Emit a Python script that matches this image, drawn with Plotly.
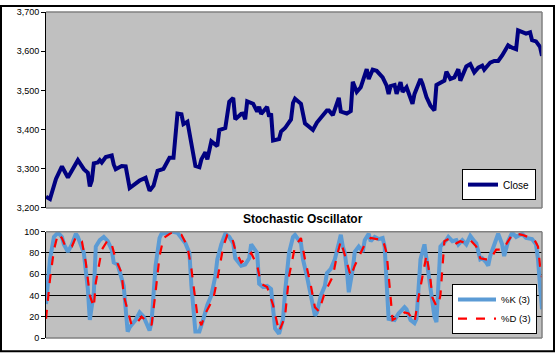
import plotly.graph_objects as go

# ---- data (trading-day index) ----
close_day = [0, 2, 5, 8, 11, 16, 19, 21, 22, 23, 24, 26, 27, 28, 30, 33, 34, 35, 38, 40,
             42, 45, 47, 50, 52, 54, 56, 59, 62, 64, 66, 68, 69, 71, 75, 77, 78, 80, 81, 83,
             86, 87, 90, 92, 94, 95, 98, 99, 100, 101, 104, 106, 107, 108, 111, 112, 113, 114, 117, 118,
             120, 123, 124, 125, 128, 130, 134, 136, 141, 142, 144, 147, 148, 151, 153, 154, 156, 158, 161, 162,
             164, 166, 169, 171, 172, 173, 175, 176, 178, 179, 181, 182, 184, 185, 188, 189, 191, 193, 195, 196,
             199, 200, 201, 203, 205, 207, 208, 210, 211, 213, 214, 215, 217, 219, 220, 223, 225, 227, 229, 232,
             234, 236, 237, 240, 241, 243, 244, 246, 248, 249]
close_val = [3229, 3223, 3274, 3306, 3278, 3322, 3299, 3290, 3255, 3270, 3314, 3316, 3322, 3316, 3330, 3334, 3311, 3299, 3307, 3306,
             3251, 3264, 3270, 3277, 3244, 3257, 3295, 3300, 3328, 3328, 3441, 3439, 3414, 3420, 3307, 3304, 3324, 3342, 3324, 3370,
             3358, 3399, 3404, 3471, 3481, 3426, 3440, 3441, 3426, 3472, 3466, 3446, 3458, 3440, 3458, 3433, 3441, 3372, 3376, 3395,
             3404, 3426, 3468, 3479, 3466, 3416, 3399, 3418, 3449, 3449, 3437, 3481, 3446, 3441, 3447, 3522, 3496, 3508, 3554, 3529,
             3553, 3550, 3533, 3512, 3491, 3511, 3514, 3491, 3521, 3496, 3508, 3494, 3466, 3491, 3529, 3517, 3483, 3461, 3449, 3514,
             3521, 3525, 3548, 3529, 3533, 3554, 3525, 3554, 3561, 3567, 3554, 3546, 3558, 3563, 3553, 3571, 3575, 3575, 3589, 3615,
             3609, 3605, 3653, 3645, 3645, 3648, 3628, 3625, 3611, 3588]

k_day = [0, 2, 4, 6, 8, 9, 11, 13, 15, 16, 19, 21, 22, 24, 25, 27, 29, 31, 33, 34,
         36, 37, 39, 41, 42, 45, 47, 49, 52, 53, 55, 57, 58, 61, 63, 66, 68, 70, 72, 73,
         75, 77, 79, 81, 83, 85, 86, 88, 90, 92, 94, 95, 98, 100, 102, 103, 106, 107, 109, 111,
         113, 115, 117, 119, 120, 122, 124, 125, 128, 129, 131, 133, 135, 136, 138, 140, 141, 143, 145, 147,
         148, 149, 150, 151, 152, 154, 155, 157, 159, 160, 162, 163, 165, 167, 169, 170, 172, 175, 177, 180,
         181, 183, 185, 186, 188, 190, 192, 194, 195, 196, 197, 198, 201, 202, 204, 206, 207, 209, 211, 213,
         215, 216, 218, 219, 221, 222, 223, 225, 227, 229, 230, 232, 234, 236, 239, 241, 244, 246, 247, 248, 249]
k_val = [32, 74, 95, 99, 95, 88, 81, 88, 98, 95, 80, 46, 17, 43, 86, 92, 95, 91, 83, 71,
         69, 63, 49, 6, 10, 17, 24, 20, 7, 15, 68, 94, 98, 99, 100, 99, 94, 89, 80, 49,
         6, 6, 18, 31, 40, 58, 74, 88, 98, 95, 89, 75, 68, 69, 75, 88, 80, 51, 48, 49,
         46, 9, 4, 18, 43, 80, 95, 97, 89, 74, 58, 37, 21, 24, 40, 49, 61, 65, 74, 89,
         97, 86, 80, 65, 43, 65, 81, 86, 81, 92, 98, 91, 95, 93, 94, 86, 18, 17, 23, 29,
         27, 17, 14, 18, 74, 88, 61, 40, 20, 15, 45, 86, 92, 95, 91, 92, 88, 92, 88, 96,
         91, 89, 74, 75, 71, 68, 77, 89, 98, 88, 77, 91, 99, 95, 98, 94, 93, 88, 74, 49, 27]

d_day = [0, 2, 4, 6, 8, 10, 13, 15, 18, 20, 22, 24, 25, 28, 31, 33, 35, 38, 39, 42,
         43, 46, 48, 51, 53, 55, 57, 59, 63, 68, 71, 73, 76, 78, 80, 84, 86, 89, 91, 93,
         95, 98, 100, 103, 106, 108, 111, 114, 116, 117, 120, 122, 125, 128, 130, 133, 135, 137, 140, 144,
         146, 148, 150, 153, 155, 158, 160, 163, 166, 169, 171, 174, 177, 180, 182, 185, 187, 191, 193, 194,
         196, 197, 198, 200, 203, 206, 208, 211, 213, 216, 218, 221, 223, 226, 229, 231, 234, 236, 239, 242,
         245, 247, 248, 249]
d_val = [18, 55, 83, 98, 94, 85, 86, 95, 91, 71, 40, 29, 52, 83, 92, 88, 74, 61, 40, 18,
         12, 15, 20, 15, 12, 43, 77, 94, 99, 97, 86, 65, 21, 12, 23, 37, 55, 86, 97, 97,
         83, 71, 74, 80, 68, 51, 48, 31, 12, 6, 20, 58, 86, 94, 74, 49, 29, 25, 43, 58,
         77, 91, 78, 58, 68, 81, 88, 94, 93, 93, 80, 17, 20, 24, 23, 15, 38, 78, 55, 38,
         30, 32, 40, 91, 94, 89, 91, 89, 92, 86, 75, 74, 74, 83, 83, 88, 97, 98, 97, 95,
         93, 86, 68, 57]

y_top_ticks = [3200, 3300, 3400, 3500, 3600, 3700]
y_bot_ticks = [0, 20, 40, 60, 80, 100]

FONT = "Liberation Sans, Arial, sans-serif"
GRAY_BG = "#C0C0C0"
BORDER = "#808080"

fig = go.Figure()
fig.add_trace(go.Scatter(x=close_day, y=close_val, mode="lines", name="Close",
                         line=dict(color="#000080", width=4), xaxis="x", yaxis="y",
                         legend="legend"))
fig.add_trace(go.Scatter(x=k_day, y=k_val, mode="lines", name="%K (3)",
                         line=dict(color="#5B9BD5", width=4), xaxis="x2", yaxis="y2",
                         legend="legend2"))
fig.add_trace(go.Scatter(x=d_day, y=d_val, mode="lines", name="%D (3)",
                         line=dict(color="#FF0000", width=2.2, dash="dash"), xaxis="x2", yaxis="y2",
                         legend="legend2"))

W, H = 556, 353
ml, mr, mt, mb = 46, 14, 7, 15
pw, ph = W - ml - mr, H - mt - mb
top_dom = [(338 - 206) / ph, 1.0]
bot_dom = [0.0, (338 - 230) / ph]

def px_x(x):
    return (x - ml) / pw

def px_y(y):
    return (338 - y) / ph

shapes = []
# outer frame
shapes.append(dict(type="rect", xref="paper", yref="paper",
                   x0=px_x(1), x1=px_x(554), y0=px_y(351.5), y1=px_y(1),
                   line=dict(color="black", width=2), fillcolor="rgba(0,0,0,0)", layer="above"))
# plot-area borders (top, right, bottom) in gray
for xr, yr in (("x domain", "y domain"), ("x2 domain", "y2 domain")):
    shapes.append(dict(type="line", xref=xr, yref=yr, x0=0, x1=1, y0=1, y1=1,
                       line=dict(color=BORDER, width=1.5), layer="above"))
    shapes.append(dict(type="line", xref=xr, yref=yr, x0=1, x1=1, y0=0, y1=1,
                       line=dict(color=BORDER, width=1.5), layer="above"))
    shapes.append(dict(type="line", xref=xr, yref=yr, x0=0, x1=1, y0=0, y1=0,
                       line=dict(color=BORDER, width=1.5), layer="above"))

fig.update_layout(
    width=W, height=H,
    margin=dict(l=ml, r=mr, t=mt, b=mb),
    paper_bgcolor="white",
    plot_bgcolor=GRAY_BG,
    font=dict(family=FONT, size=9, color="black"),
    showlegend=True,
    xaxis=dict(domain=[0, 1], range=[0, 249], showticklabels=False, showgrid=False,
               zeroline=False, showline=False, ticks="", anchor="y"),
    yaxis=dict(domain=top_dom, range=[3200, 3700], tickvals=y_top_ticks, tickformat=",",
               showgrid=False, zeroline=False, showline=True, linecolor="black", linewidth=1,
               ticks="outside", ticklen=4, tickcolor="black", anchor="x",
               tickfont=dict(family=FONT, size=9)),
    xaxis2=dict(domain=[0, 1], range=[0, 249], showticklabels=False, showgrid=False,
                zeroline=False, showline=False, ticks="", anchor="y2"),
    yaxis2=dict(domain=bot_dom, range=[0, 100], tickvals=y_bot_ticks,
                showgrid=True, gridcolor="black", gridwidth=1, zeroline=False,
                showline=True, linecolor="black", linewidth=1,
                ticks="outside", ticklen=4, tickcolor="black", anchor="x2",
                tickfont=dict(family=FONT, size=9)),
    legend=dict(x=px_x(536), y=px_y(198), xanchor="right", yanchor="bottom",
                bgcolor="white", bordercolor="black", borderwidth=1,
                font=dict(family=FONT, size=10), itemwidth=30,
                tracegroupgap=0),
    legend2=dict(x=px_x(537), y=px_y(334), xanchor="right", yanchor="bottom",
                 bgcolor="white", bordercolor="black", borderwidth=1,
                 font=dict(family=FONT, size=9.5), itemwidth=38,
                 entrywidth=82, entrywidthmode="pixels",
                 tracegroupgap=0),
    shapes=shapes,
    annotations=[dict(text="<b>Stochastic Oscillator</b>", xref="paper", yref="paper",
                      x=px_x(303), y=px_y(217), xanchor="center", yanchor="middle",
                      showarrow=False, font=dict(family=FONT, size=12, color="black"))],
)

fig.write_html("out.html")
